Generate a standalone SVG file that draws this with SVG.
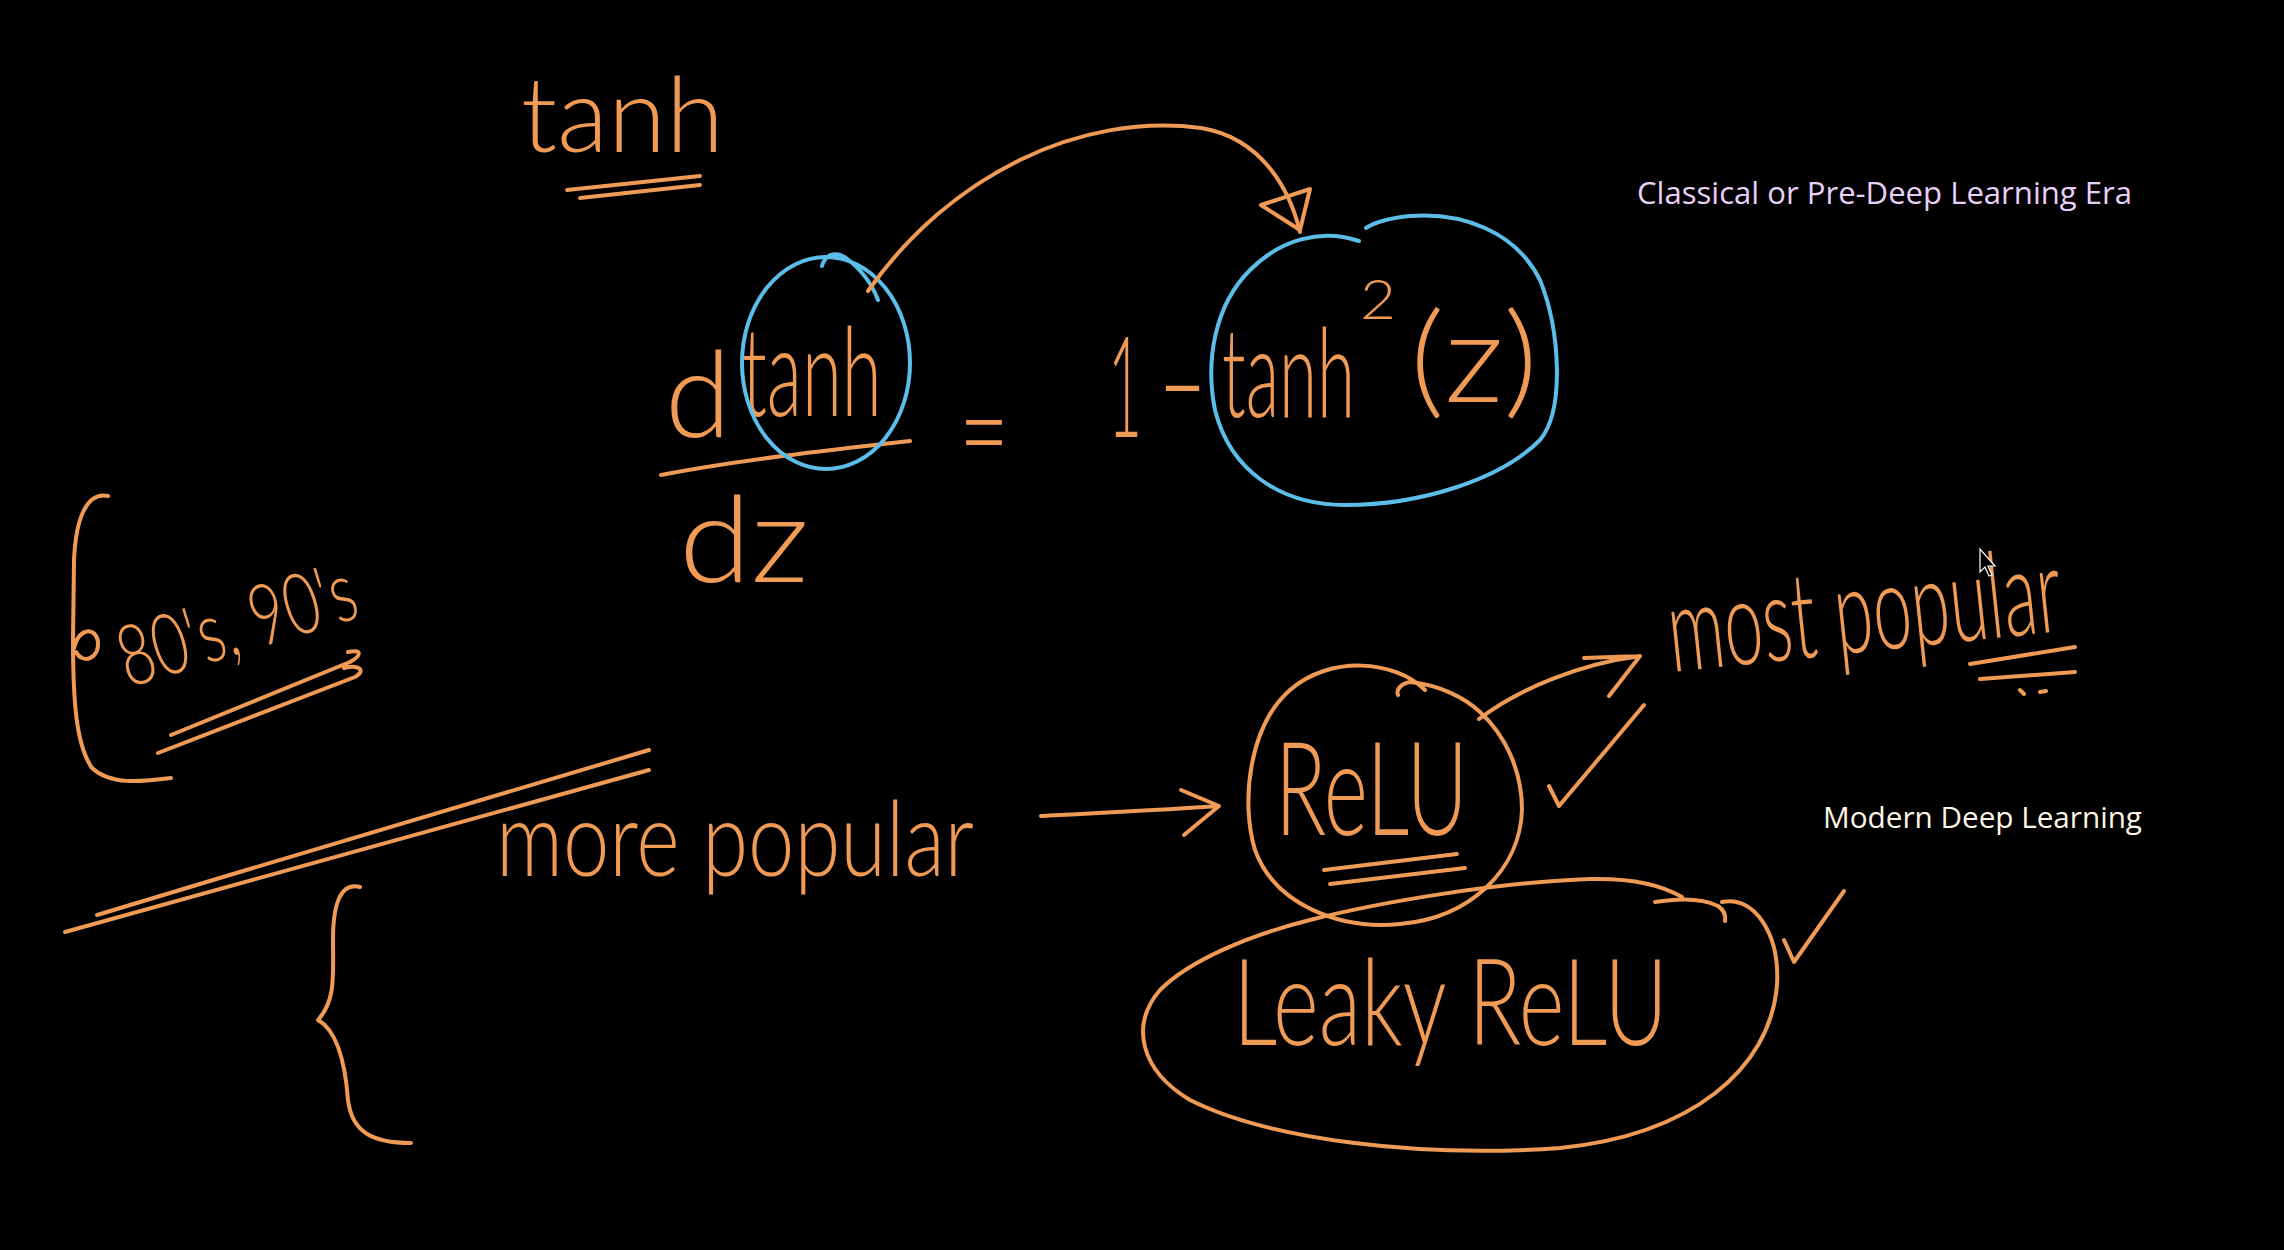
<svg xmlns="http://www.w3.org/2000/svg" width="2284" height="1250" viewBox="0 0 2284 1250">
<style>
.ink{fill:none;stroke:#ef9a55;stroke-width:4;stroke-linecap:round;stroke-linejoin:round}
.blue{fill:none;stroke:#5cbde9;stroke-width:4;stroke-linecap:round;stroke-linejoin:round}
.hw{font-family:Lato,"Open Sans","DejaVu Sans",sans-serif;font-weight:300;fill:#ef9a55}
.typed{font-family:"Open Sans",Lato,"DejaVu Sans",sans-serif}
</style>
<rect width="2284" height="1250" fill="#000"/>

<g id="title-tanh">
<text class="hw" x="521" y="152" font-size="105" textLength="203" lengthAdjust="spacingAndGlyphs">tanh</text>
<path class="ink" d="M567,190 L700,176 M580,198 L700,185"/>
</g>

<g id="derivative-lhs">
<text class="hw" x="665" y="437" font-size="120" textLength="66" lengthAdjust="spacingAndGlyphs">d</text>
<text class="hw" transform="translate(742,416) scale(0.58,1)" font-size="125" textLength="241" lengthAdjust="spacingAndGlyphs">tanh</text>
<path class="ink" d="M661,475 C740,460 830,450 910,441"/>
<text class="hw" x="679" y="582" font-size="120" textLength="130" lengthAdjust="spacingAndGlyphs">dz</text>
<ellipse class="blue" cx="826" cy="363" rx="84" ry="106"/>
<path class="blue" d="M822,266 C826,252 838,252 846,258 C862,270 872,284 878,300"/>
</g>

<g id="equals">
<text class="hw" x="959" y="476" font-size="130" textLength="50" lengthAdjust="spacingAndGlyphs">=</text>
</g>

<g id="derivative-rhs">
<text class="hw" transform="translate(1108,437) scale(0.42,1)" font-size="140" textLength="81" lengthAdjust="spacingAndGlyphs">1</text>
<text class="hw" x="1156" y="427" font-size="130" textLength="53" lengthAdjust="spacingAndGlyphs">-</text>
<text class="hw" transform="translate(1222,417) scale(0.55,1)" font-size="125" textLength="242" lengthAdjust="spacingAndGlyphs">tanh</text>
<text class="hw" x="1360" y="319" font-size="55" textLength="36" lengthAdjust="spacingAndGlyphs">2</text>
<text class="hw" x="1410" y="402" font-size="125" textLength="128" lengthAdjust="spacingAndGlyphs">(z)</text>
<path class="blue" d="M1359,241 C1320,228 1280,240 1250,270 C1215,305 1205,360 1215,410 C1230,470 1280,505 1345,505 C1420,505 1500,480 1540,440 C1565,410 1560,330 1540,280 C1515,230 1460,212 1410,216 C1390,218 1375,222 1366,228"/>
</g>

<g id="era-classical">
<text class="typed" x="1637" y="204" font-size="31" fill="#e8d0f8" textLength="495" lengthAdjust="spacingAndGlyphs">Classical or Pre-Deep Learning Era</text>
</g>

<g id="decades">
<path class="ink" d="M108,496 C88,492 76,515 74,560 L73,640 C73,700 76,745 92,768 C110,785 140,782 171,778"/>
<path class="ink" d="M74,648 C78,628 96,626 98,642 C99,660 82,664 76,652"/>
<text class="hw" font-size="85" transform="translate(128,688) rotate(-17)" textLength="245" lengthAdjust="spacingAndGlyphs">80's, 90's</text>
<path class="ink" d="M171,735 L350,662 C362,655 362,649 348,652 M158,753 L355,677 C366,671 360,664 344,668"/>
</g>

<g id="separator">
<path class="ink" d="M97,915 C280,860 460,805 649,750 M65,932 C260,878 460,822 649,770"/>
</g>

<g id="lower-brace">
<path class="ink" d="M360,887 C340,882 333,905 333,940 C333,975 336,1000 318,1020 C336,1030 345,1060 348,1100 C352,1132 372,1143 411,1143"/>
</g>

<g id="more-popular">
<text class="hw" x="496" y="876" font-size="105" textLength="478" lengthAdjust="spacingAndGlyphs">more popular</text>
</g>

<g id="relu">
<path class="ink" d="M1425,690 C1395,660 1330,655 1290,690 C1250,725 1240,800 1255,850 C1275,905 1340,930 1400,924 C1470,918 1520,870 1522,810 C1522,770 1505,735 1480,712 C1465,698 1440,685 1410,682 C1400,684 1396,690 1398,695"/>
<text class="hw" x="1275" y="835" font-size="130" textLength="193" lengthAdjust="spacingAndGlyphs">ReLU</text>
<path class="ink" d="M1324,870 L1457,854 M1330,884 L1465,868"/>
<path class="ink" d="M1549,786 L1559,806 L1644,705"/>
</g>

<g id="most-popular">
<text class="hw" font-size="120" transform="translate(1672,672) rotate(-6) scale(0.6,1)" textLength="658" lengthAdjust="spacingAndGlyphs">most popular</text>
<path class="ink" d="M1970,664 L2075,647 M1980,679 L2075,672"/>
<path class="ink" d="M2020,690 L2024,694 M2040,692 L2046,691"/>
</g>

<g id="era-modern">
<text class="typed" x="1823" y="828" font-size="30" fill="#fff6e4" textLength="319" lengthAdjust="spacingAndGlyphs">Modern Deep Learning</text>
</g>

<g id="leaky-relu">
<path class="ink" d="M1682,897 C1660,884 1630,878 1590,879 C1500,882 1380,902 1310,920 C1250,935 1190,960 1160,990 C1130,1025 1140,1070 1190,1100 C1270,1140 1420,1158 1560,1148 C1690,1135 1770,1070 1777,985 C1780,935 1755,895 1722,902"/>
<path class="ink" d="M1655,902 C1680,898 1702,898 1718,906 C1724,910 1726,915 1725,921"/>
<text class="hw" x="1233" y="1045" font-size="120" textLength="435" lengthAdjust="spacingAndGlyphs">Leaky ReLU</text>
<path class="ink" d="M1784,940 L1794,962 L1844,891"/>
</g>

<g id="connectors">
<path class="ink" d="M868,291 C950,175 1080,112 1201,128 C1262,138 1290,190 1300,232"/>
<polygon class="ink" points="1261,205 1310,189 1300,230"/>
<path class="ink" d="M1041,816 C1100,813 1160,810 1219,806 M1181,790 L1219,806 L1184,835"/>
<path class="ink" d="M1479,719 C1520,688 1580,664 1640,656 M1584,658 L1640,656 L1609,696"/>
</g>

<g id="cursor">
<path d="M1980,549 L1980,572 L1985,567 L1989,576 L1992,575 L1988,566 L1995,566 Z" fill="#000" stroke="#fff" stroke-width="1.2"/>
</g>
</svg>
